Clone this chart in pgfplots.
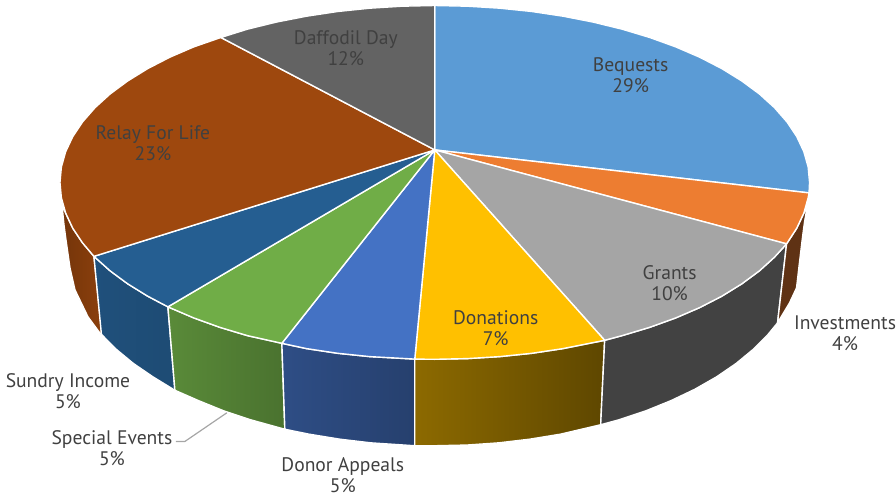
\documentclass[border=0pt]{standalone}
\usepackage{fontspec}
\setmainfont{PT Sans}
\usepackage{pgfplots}
\pgfplotsset{compat=1.18}
\definecolor{cbeq}{HTML}{5B9BD5}
\definecolor{cinv}{HTML}{ED7D31}
\definecolor{cgra}{HTML}{A5A5A5}
\definecolor{cdon}{HTML}{FFC000}
\definecolor{cdap}{HTML}{4472C4}
\definecolor{cspe}{HTML}{70AD47}
\definecolor{csun}{HTML}{255E91}
\definecolor{crel}{HTML}{9E480E}
\definecolor{cdaf}{HTML}{636363}
\definecolor{txt}{HTML}{404040}
\tikzset{
  face/.style={draw=white,line width=1.4pt,line join=round},
  lab/.style={align=center,text=txt,font=\fontsize{19.6}{21}\selectfont,inner sep=0pt}
}
\begin{document}
\begin{tikzpicture}
\begin{axis}[
  scale only axis,width=896pt,height=497pt,
  xmin=0,xmax=896,ymin=0,ymax=497,y dir=reverse,
  axis lines=none,clip=false,no markers
]
% keeps the full frame in the bounding box
\path (axis cs:0,0) rectangle (axis cs:896,497);
% side walls, image pixel coordinates
\addplot[face,fill=crel!70!black,left color=crel!74!black,right color=crel!88!black] coordinates {
 (62,205)(64,225)(66,240)(70,268)(75,290)(88,317)(102,336)(94,256.5)(82.6,243)(72.8,228.3)(65.7,213.2)} -- cycle;
\addplot[face,left color=csun!85!black,right color=csun!80!black] coordinates {
 (94,256.5)(110.2,271)(127.8,284)(147.7,296.3)(168,307)(175,390.5)(153.1,377.1)(133.5,363.7)(116.3,349.5)(101.5,334.6)} -- cycle;
\addplot[face,left color=cspe!80!black,right color=cspe!66!black] coordinates {
 (168,307)(193.9,318.1)(219.9,327.5)(247.5,335.8)(282,343.5)(285,429.5)(251,420.1)(223.9,411.1)(198.5,400.8)(175,390.5)} -- cycle;
\addplot[face,left color=cdap!68!black,right color=cdap!56!black] coordinates {
 (282,343.5)(306.7,348.8)(337.9,353.5)(369.9,356.8)(415,359.3)(415,446)(371.1,443.1)(339.8,439.4)(309.1,434.4)(285,429.5)} -- cycle;
\addplot[face,left color=cdon!55!black,right color=cdon!37!black] coordinates {
 (415,359.3)(435,359.5)(467.7,358.8)(500.1,356.8)(532.1,353.5)(563.3,348.8)(605,340.5)(601,425)(560.9,434.4)(530.2,439.4)(498.9,443.1)(467.1,445.3)(435,446)(415,446)} -- cycle;
\addplot[face,fill=cgra!40!black] coordinates {
 (605,340.5)(622.5,335.8)(650.1,327.5)(676.1,318.1)(700.2,307.7)(722.3,296.3)(742.2,284)(759.8,271)(774.9,257.3)(787,244)
 (778,323)(768.5,334.6)(753.7,349.5)(736.5,363.7)(716.9,377.1)(695.2,389.5)(671.5,400.8)(646.1,411.1)(619,420.1)(601,425)} -- cycle;
\addplot[face,fill=cinv!40!black] coordinates {
 (808,205)(804.3,213.2)(797.2,228.3)(787,244)(778,323)(790,303)(797,288)(800,262)(803,237)(805,222)} -- cycle;
% top slices
\addplot[face,fill=cbeq] coordinates {
 (435,150)(435,5.5)(467.7,6.2)(500.1,8.2)(532.1,11.5)(563.3,16.2)(593.5,22.1)(622.5,29.2)(650.1,37.5)(676.1,46.9)(700.2,57.3)(722.3,68.7)(742.2,81)(759.8,94)(774.9,107.7)(787.4,122)(797.2,136.7)(804.3,151.8)(808.6,167.1)(810,182.5)(809.5,193)} -- cycle;
\addplot[face,fill=cinv] coordinates {
 (435,150)(809.5,193)(808.6,197.9)(804.3,213.2)(797.2,228.3)(787,244)} -- cycle;
\addplot[face,fill=cgra] coordinates {
 (435,150)(787,244)(774.9,257.3)(759.8,271)(742.2,284)(722.3,296.3)(700.2,307.7)(676.1,318.1)(650.1,327.5)(622.5,335.8)(605,340.5)} -- cycle;
\addplot[face,fill=cdon] coordinates {
 (435,150)(605,340.5)(563.3,348.8)(532.1,353.5)(500.1,356.8)(467.7,358.8)(435,359.5)(415,359.3)} -- cycle;
\addplot[face,fill=cdap] coordinates {
 (435,150)(415,359.3)(369.9,356.8)(337.9,353.5)(306.7,348.8)(282,343.5)} -- cycle;
\addplot[face,fill=cspe] coordinates {
 (435,150)(282,343.5)(247.5,335.8)(219.9,327.5)(193.9,318.1)(168,307)} -- cycle;
\addplot[face,fill=csun] coordinates {
 (435,150)(168,307)(147.7,296.3)(127.8,284)(110.2,271)(94,256.5)} -- cycle;
\addplot[face,fill=crel] coordinates {
 (435,150)(94,256.5)(82.6,243)(72.8,228.3)(65.7,213.2)(61.4,197.9)(60,182.5)(61.4,167.1)(65.7,151.8)(72.8,136.7)(82.6,122)(95.1,107.7)(110.2,94)(127.8,81)(147.7,68.7)(169.8,57.3)(193.9,46.9)(221,37.5)} -- cycle;
\addplot[face,fill=cdaf] coordinates {
 (435,150)(221,37.5)(247.5,29.2)(276.5,22.1)(306.7,16.2)(337.9,11.5)(369.9,8.2)(402.3,6.2)(435,5.5)} -- cycle;
% leader line
\addplot[color=black!35,line width=1.2pt] coordinates {(176,441.7)(185,441.7)(227,413)};
% labels
\node[lab] at (axis cs:631,75) {Bequests\\29\%};
\node[lab] at (axis cs:845.5,333.5) {Investments\\4\%};
\node[lab] at (axis cs:670,283.5) {Grants\\10\%};
\node[lab] at (axis cs:496,328) {Donations\\7\%};
\node[lab] at (axis cs:343,475.5) {Donor Appeals\\5\%};
\node[lab] at (axis cs:112,448) {Special Events\\5\%};
\node[lab] at (axis cs:68,391.5) {Sundry Income\\5\%};
\node[lab] at (axis cs:153,143.5) {Relay For Life\\23\%};
\node[lab] at (axis cs:346,48) {Daffodil Day\\12\%};
\end{axis}
\end{tikzpicture}
\end{document}
